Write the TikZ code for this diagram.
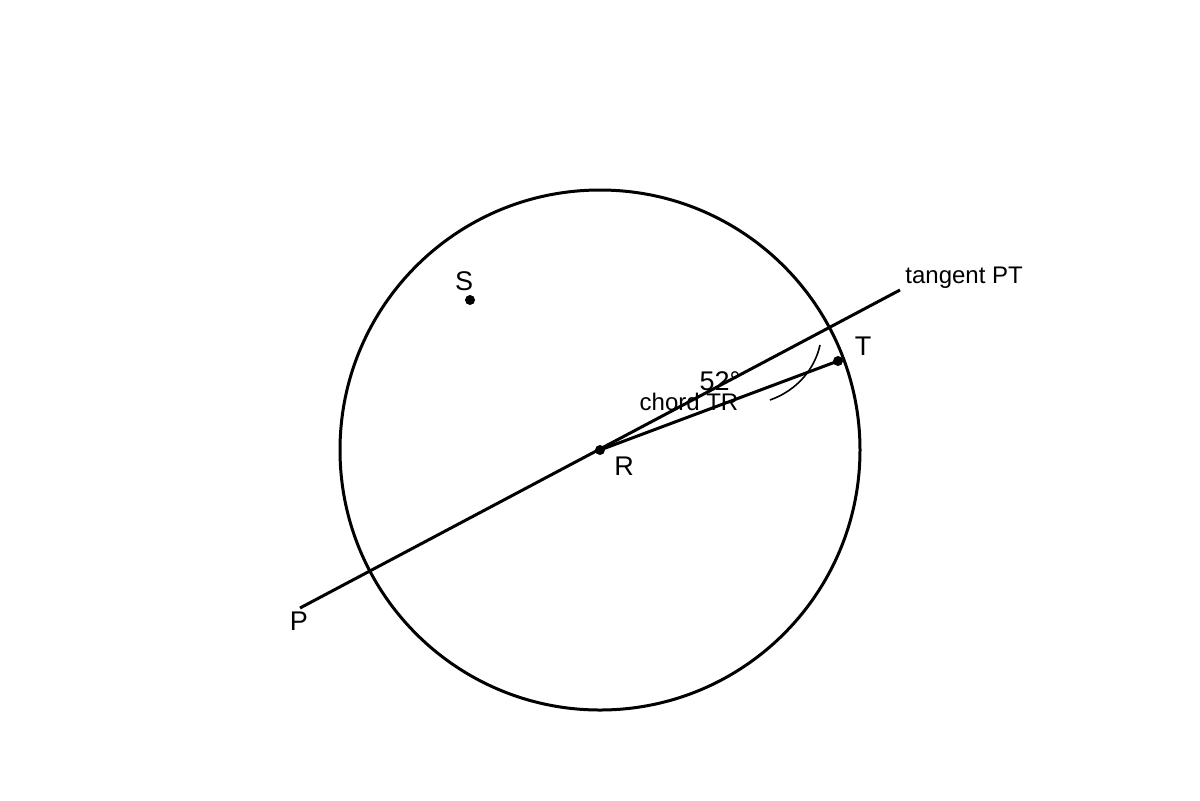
\documentclass[tikz,border=0pt]{standalone}
\usepackage{fontspec}
\setmainfont{Liberation Sans}
\begin{document}
\begin{tikzpicture}[x=0.5pt,y=-0.5pt,
  ln/.style={line width=1.5pt},
  dotpt/.style={circle,fill=black,inner sep=0pt,minimum size=5pt},
  big/.style={font=\fontsize{13.5}{15}\selectfont},
  small/.style={font=\fontsize{12}{14}\selectfont}]
\useasboundingbox (0,0) rectangle (1200,800);
\coordinate (O) at (600,450);
\draw[ln] (O) circle[radius=130pt];
\coordinate (P) at (300,608);
\coordinate (E) at (900,290);
\node[dotpt] (R) at (600,450) {};
\node[dotpt] (T) at (838,361) {};
\node[dotpt] (S) at (470,300) {};
\draw[ln] (P) -- (E);
\draw[ln] (R.center) -- (T.center);
\coordinate (A1) at (820,345);
\coordinate (A2) at (770,400);
\draw[line width=0.8pt] (A1) .. controls (815,368) and (798,390) .. (A2);
\node[big] (Sl) at (464,281) {S};
\node[big] (Tl) at (863,346) {T};
\node[big] (Rl) at (624,466) {R};
\node[big] (Pl) at (299,621) {P};
\node[small,anchor=west,inner sep=0pt] (tan) at (905,278) {tangent PT};
\node[big] (ang) at (720,381) {52°};
\node[small] (ch) at (689,402) {chord TR};
\end{tikzpicture}
\end{document}
